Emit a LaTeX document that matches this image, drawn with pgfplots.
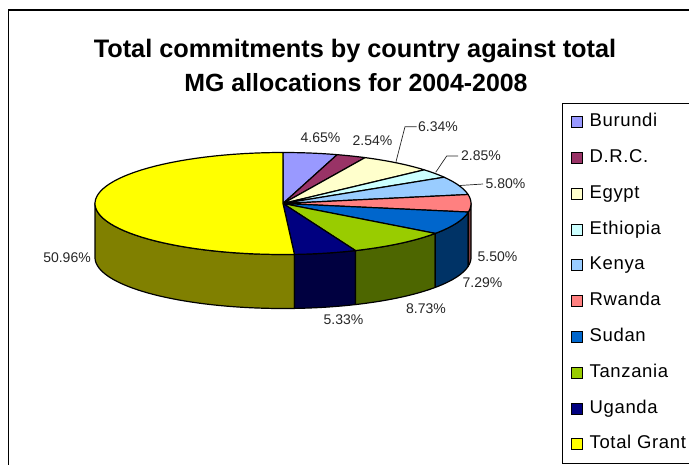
\documentclass[border=0pt]{standalone}
\usepackage{pgfplots}
\pgfplotsset{compat=1.18}
\usepackage{fontspec}
\setmainfont{Liberation Sans}

% Pie geometry, in axis units
\newcommand\cx{283}
\newcommand\cy{203.5}
\newcommand\rx{188}
\newcommand\ry{51}
\newcommand\depth{54}

\pgfplotsset{swatch/.style={legend image code/.code={\draw[##1] (0pt,-5.5pt) rectangle (11pt,5.5pt);}}}

% Top face of a slice: #1 and #2 are the cumulative shares (percent) where it starts and ends
\newcommand\topslice[3]{%
  \addplot[forget plot,fill=#3,draw=black,line width=1.2pt,line join=round,no markers,
           variable=\t,domain=0:61,samples=62]
    ({\cx+(\t>0.5)*\rx*sin(3.6*(#1+(#2-#1)*(\t-1)/60))},
     {\cy-(\t>0.5)*\ry*cos(3.6*(#1+(#2-#1)*(\t-1)/60))}) -- cycle;
}
% Outer wall of a slice between the same kind of bounds
\newcommand\wallslice[3]{%
  \addplot[forget plot,fill=#3,draw=black,line width=1.2pt,line join=round,no markers,
           variable=\t,domain=0:81,samples=82]
    ({\cx+\rx*sin(3.6*wallp(\t,#1,#2))},
     {\cy-\ry*cos(3.6*wallp(\t,#1,#2))+(\t>40.5)*\depth}) -- cycle;
}
\newcommand\slicelabel[3]{\node[font=\fontsize{14}{15}\selectfont,inner sep=0pt,text=black!85] at (axis cs:#1,#2) {#3};}
\newcommand\legendkey[2]{%
  \addlegendimage{swatch,fill=#1,draw=black,line width=1pt}
  \addlegendentry{#2}
}

\definecolor{cBurundi}{HTML}{9999FF}
\definecolor{cDRC}{HTML}{993366}
\definecolor{cEgypt}{HTML}{FFFFCC}
\definecolor{cEthiopia}{HTML}{CCFFFF}
\definecolor{cKenya}{HTML}{99CCFF}
\definecolor{cRwanda}{HTML}{FF8080}
\definecolor{cSudan}{HTML}{0066CC}
\definecolor{cTanzania}{HTML}{99CC00}
\definecolor{cUganda}{HTML}{000080}
\definecolor{cGrant}{HTML}{FFFF00}
\definecolor{wRwanda}{HTML}{804040}
\definecolor{wSudan}{HTML}{003366}
\definecolor{wTanzania}{HTML}{4D6600}
\definecolor{wUganda}{HTML}{000040}
\definecolor{wGrant}{HTML}{808000}

\begin{document}
\begin{tikzpicture}
\useasboundingbox (0,0) rectangle (689pt,464pt);
\begin{axis}[
  scale only axis,
  width=689pt,height=464pt,
  xmin=0,xmax=689,ymin=0,ymax=464,
  y dir=reverse,
  hide axis,
  declare function={wallp(\t,\a,\b)=ifthenelse(\t<40.5,\a+(\b-\a)*\t/40,\b-(\b-\a)*(\t-41)/40);},
  legend cell align=left,
  legend style={
    at={(axis cs:561.7,103.3)},anchor=north west,
    draw=black,line width=0.9pt,
    font=\fontsize{18.5}{20}\selectfont\addfontfeature{LetterSpace=3.5},
    nodes={text height=13pt,text depth=4pt,inner ysep=0pt},
    row sep=18.8pt,
    inner xsep=8.5pt,inner ysep=10pt,
    /tikz/column 1/.style={column sep=5pt},
  },
]
% Window frame around the chart
\draw[line width=1.3pt] (axis cs:8.5,480) -- (axis cs:8.5,10) -- (axis cs:700,10);

% Side walls, back to front
\wallslice{49.03}{75}{wGrant}
\wallslice{43.70}{49.03}{wUganda}
\wallslice{34.97}{43.70}{wTanzania}
\wallslice{27.68}{34.97}{wSudan}
\wallslice{25}{27.68}{wRwanda}

% Top faces; shares 4.65, 2.54, 6.34, 2.85, 5.80, 5.50, 7.29, 8.73, 5.33, 50.96
\topslice{0}{4.65}{cBurundi}
\topslice{4.65}{7.19}{cDRC}
\topslice{7.19}{13.53}{cEgypt}
\topslice{13.53}{16.38}{cEthiopia}
\topslice{16.38}{22.18}{cKenya}
\topslice{22.18}{27.68}{cRwanda}
\topslice{27.68}{34.97}{cSudan}
\topslice{34.97}{43.70}{cTanzania}
\topslice{43.70}{49.03}{cUganda}
\topslice{49.03}{99.99}{cGrant}

% Leader lines
\draw[line width=0.7pt,black!85] (axis cs:396,161.7) -- (axis cs:405,126.7) -- (axis cs:416.7,126.7);
\draw[line width=0.7pt,black!85] (axis cs:435.7,172.3) -- (axis cs:446.7,156) -- (axis cs:458,156);
\draw[line width=0.7pt,black!85] (axis cs:460,185.5) -- (axis cs:483,184);

\slicelabel{320.5}{138}{4.65\%}
\slicelabel{372.5}{141}{2.54\%}
\slicelabel{438}{126.7}{6.34\%}
\slicelabel{481}{156}{2.85\%}
\slicelabel{505.5}{184}{5.80\%}
\slicelabel{497.5}{256.7}{5.50\%}
\slicelabel{482.5}{283}{7.29\%}
\slicelabel{426}{309}{8.73\%}
\slicelabel{343.5}{320}{5.33\%}
\slicelabel{67}{257.7}{50.96\%}

% Two-line title, one node per line so each baseline is set directly
\node[font=\bfseries\fontsize{25.3}{30}\selectfont,inner sep=0pt,anchor=base]
  at (axis cs:355,57.3) {Total commitments by country against total};
\node[font=\bfseries\fontsize{24.9}{30}\selectfont,inner sep=0pt,anchor=base]
  at (axis cs:356,91.5) {MG allocations for 2004-2008};

\legendkey{cBurundi}{Burundi}
\legendkey{cDRC}{D.R.C.}
\legendkey{cEgypt}{Egypt}
\legendkey{cEthiopia}{Ethiopia}
\legendkey{cKenya}{Kenya}
\legendkey{cRwanda}{Rwanda}
\legendkey{cSudan}{Sudan}
\legendkey{cTanzania}{Tanzania}
\legendkey{cUganda}{Uganda}
\legendkey{cGrant}{Total Grant}
\end{axis}
\end{tikzpicture}
\end{document}
